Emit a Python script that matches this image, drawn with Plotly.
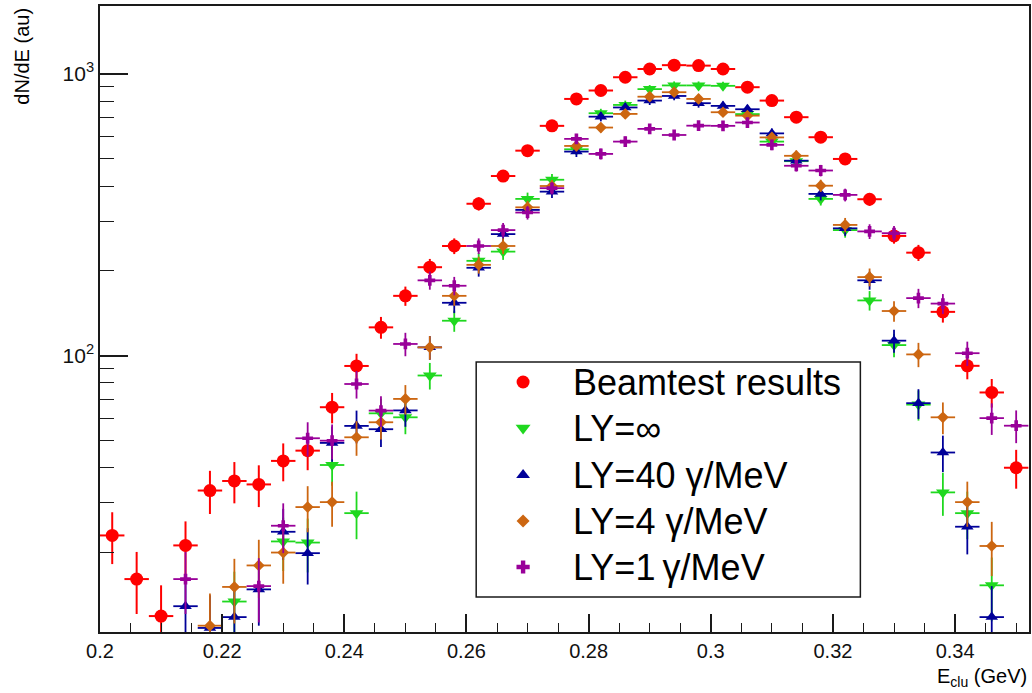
import plotly.graph_objects as go

# Cluster energy bin centres (GeV), bin width 0.004
E_CENTERS = [0.202, 0.206, 0.210, 0.214, 0.218, 0.222, 0.226, 0.230, 0.234, 0.238,
             0.242, 0.246, 0.250, 0.254, 0.258, 0.262, 0.266, 0.270, 0.274, 0.278,
             0.282, 0.286, 0.290, 0.294, 0.298, 0.302, 0.306, 0.310, 0.314, 0.318,
             0.322, 0.326, 0.330, 0.334, 0.338, 0.342, 0.346, 0.350]
E_HALF_BIN = 0.002

# dN/dE per series (None = empty bin)
beamtest = [23.0, 16.1, 11.9, 21.2, 33.2, 35.9, 34.9, 42.3, 46.0, 65.6,
            91.9, 126, 163, 206, 245, 346, 434, 534, 654, 815,
            873, 973, 1041, 1074, 1070, 1041, 897, 804, 702, 596,
            499, 359, 266, 232, 143, 92, 74, 40]
beamtest_err = [4.8, 4.0, 3.4, 4.6, 5.8, 6.0, 5.9, 6.5, 6.8, 8.1,
                9.6, 11.2, 12.8, 14.4, 15.7, 18.6, 20.8, 23.1, 25.6, 28.5,
                29.5, 31.2, 32.3, 32.8, 32.7, 32.3, 29.9, 28.4, 26.5, 24.4,
                22.3, 18.9, 16.3, 15.2, 12.0, 9.6, 8.6, 6.3]

ly_inf = [None, None, None, None, None, 13.4, None, 21.9, 21.7, 40.9,
          27.6, 62.4, 60.4, 85, 133, 217, 234, 360, 421, 540,
          725, 776, 883, 910, 910, 907, 720, 575, 490, 360,
          279, 157, 109, 67, 32.7, 27.6, 15.3, None]
ly_inf_err = [None, None, None, None, None, 3.7, None, 4.7, 4.7, 6.4,
              5.3, 7.9, 7.8, 9.2, 11.5, 14.7, 15.3, 19.0, 20.5, 23.2,
              26.9, 27.9, 29.7, 30.2, 30.2, 30.1, 26.8, 24.0, 22.1, 19.0,
              16.7, 12.5, 10.4, 8.2, 5.7, 5.3, 3.9, None]

ly_40 = [None, None, None, 12.9, 10.8, 11.8, 14.8, 23.7, 19.9, 49,
         56.3, 54.8, 63.9, 107, 154, 205, 270, 329, 382, 530,
         705, 760, 804, 835, 787, 770, 749, 615, 492, 375,
         283, 185, 113, 67.8, 45.3, 24.7, 11.8, None]
ly_40_err = [None, None, None, 3.6, 3.3, 3.4, 3.8, 4.9, 4.5, 7.0,
             7.5, 7.4, 8.0, 10.3, 12.4, 14.3, 16.4, 18.1, 19.5, 23.0,
             26.6, 27.6, 28.4, 28.9, 28.1, 27.7, 27.4, 24.8, 22.2, 19.4,
             16.8, 13.6, 10.6, 8.2, 6.7, 5.0, 3.4, None]

ly_4 = [None, None, None, None, 11.0, 15.1, 18.0, 20.0, 29.0, 30.2,
        51.3, 58.0, 70.2, 107, 163, 210, 245, 336, 400, 555,
        645, 721, 830, 861, 815, 731, 711, 595, 512, 401,
        291, 190, 144, 101, 60.4, 30.2, 21.1, None]
ly_4_err = [None, None, None, None, 3.3, 3.9, 4.2, 4.5, 5.4, 5.5,
            7.2, 7.6, 8.4, 10.3, 12.8, 14.5, 15.7, 18.3, 20.0, 23.6,
            25.4, 26.9, 28.8, 29.3, 28.5, 27.0, 26.7, 24.4, 22.6, 20.0,
            17.1, 13.8, 12.0, 10.0, 7.8, 5.5, 4.6, None]

ly_1 = [None, None, None, 16.1, None, None, 15.2, 24.9, 50.9, 49.9,
        79.3, 63.8, 110, 185, 177, 245, 279, 322, 393, 588,
        520, 575, 638, 607, 655, 654, 672, 560, 472, 454,
        372, 276, 272, 160, 153, 102, 60, 56.4]
ly_1_err = [None, None, None, 4.0, None, None, 3.9, 5.0, 7.1, 7.1,
            8.9, 8.0, 10.5, 13.6, 13.3, 15.7, 16.7, 17.9, 19.8, 24.2,
            22.8, 24.0, 25.3, 24.6, 25.6, 25.6, 25.9, 23.7, 21.7, 21.3,
            19.3, 16.6, 16.5, 12.6, 12.4, 10.1, 7.7, 7.5]

SERIES_NAMES = ["Beamtest results", "LY=\u221e", "LY=40 \u03b3/MeV",
                "LY=4 \u03b3/MeV", "LY=1\u2009\u03b3/MeV"]

X_TICKS = [0.20, 0.22, 0.24, 0.26, 0.28, 0.30, 0.32, 0.34]
X_TICK_TEXT = ["0.2", "0.22", "0.24", "0.26", "0.28", "0.3", "0.32", "0.34"]
Y_TICKS = [100, 1000]
Y_TICK_TEXT = ["10<sup>2</sup>", "10<sup>3</sup>"]
Y_MINOR = [20, 30, 40, 50, 60, 70, 80, 90, 200, 300, 400, 500, 600, 700, 800, 900]

FONT = "Liberation Sans, Arial, Helvetica, sans-serif"
FRAME = "#1a1a1a"

styles = [
    dict(color="#ff0000", symbol="circle", size=13, ew=2.0),
    dict(color="#1fd81f", symbol="triangle-down", size=12, ew=1.8),
    dict(color="#000099", symbol="triangle-up", size=11, ew=1.8),
    dict(color="#cc6611", symbol="diamond", size=9, ew=1.8),
    dict(color="#990099", symbol="cross", size=9, ew=1.8),
]
values = [beamtest, ly_inf, ly_40, ly_4, ly_1]
errors = [beamtest_err, ly_inf_err, ly_40_err, ly_4_err, ly_1_err]

fig = go.Figure()
for name, vals, errs, st in zip(SERIES_NAMES, values, errors, styles):
    fig.add_trace(go.Scatter(
        x=E_CENTERS, y=vals, mode="markers", name=name, showlegend=False,
        marker=dict(symbol=st["symbol"], size=st["size"], color=st["color"],
                    line=dict(width=0)),
        error_y=dict(type="data", array=errs, symmetric=True, color=st["color"],
                     thickness=st["ew"], width=0),
        error_x=dict(type="constant", value=E_HALF_BIN, color=st["color"],
                     thickness=st["ew"], width=0),
    ))

# Legend box drawn on a pixel-unit overlay axis
LEG_BOX = (477, 362, 862, 597)
LEG_MARK_X = 524
LEG_TEXT_X = 572
LEG_ROWS = [382, 428, 475, 521, 567]
LEG_SIZES = [13, 13, 12, 10, 11]
for name, st, ry, sz in zip(SERIES_NAMES, styles, LEG_ROWS, LEG_SIZES):
    fig.add_trace(go.Scatter(
        x=[LEG_MARK_X], y=[ry], xaxis="x2", yaxis="y2", mode="markers",
        showlegend=False, hoverinfo="skip",
        marker=dict(symbol=st["symbol"], size=sz, color=st["color"], line=dict(width=0)),
    ))

annotations = []
for name, ry in zip(SERIES_NAMES, LEG_ROWS):
    annotations.append(dict(
        x=LEG_TEXT_X, y=ry, xref="x2", yref="y2", text=name, showarrow=False,
        xanchor="left", yanchor="middle", font=dict(family=FONT, size=36, color="black"),
    ))
annotations.append(dict(
    x=-0.0849, y=1.0, xref="paper", yref="paper", text="dN/dE (au)", textangle=-90,
    showarrow=False, xanchor="center", yanchor="top",
    font=dict(family=FONT, size=20, color="black"),
))
annotations.append(dict(
    x=1.0, y=-0.05, xref="paper", yref="paper", text="E<sub>clu</sub> (GeV)",
    showarrow=False, xanchor="right", yanchor="top",
    font=dict(family=FONT, size=20, color="black"),
))

fig.update_layout(
    width=1032, height=693,
    margin=dict(l=100, r=1, t=6, b=61),
    paper_bgcolor="white", plot_bgcolor="white",
    font=dict(family=FONT, size=20, color="black"),
    showlegend=False,
    xaxis=dict(
        range=[0.2, 0.3521], showgrid=False, zeroline=False,
        showline=True, mirror=True, linecolor=FRAME, linewidth=1.5,
        ticks="inside", ticklen=18, tickwidth=1.5, tickcolor=FRAME,
        tickvals=X_TICKS, ticktext=X_TICK_TEXT,
        tickfont=dict(family=FONT, size=20, color="#111"),
        minor=dict(ticks="inside", ticklen=9, tickwidth=1.3, tickcolor=FRAME,
                   tick0=0.2, dtick=0.005, showgrid=False),
    ),
    yaxis=dict(
        type="log", range=[1.019, 3.241], showgrid=False, zeroline=False,
        showline=True, mirror=True, linecolor=FRAME, linewidth=1.5,
        ticks="inside", ticklen=28, tickwidth=1.5, tickcolor=FRAME,
        tickvals=Y_TICKS, ticktext=Y_TICK_TEXT,
        tickfont=dict(family=FONT, size=21, color="#111"),
        minor=dict(ticks="inside", ticklen=14, tickwidth=1.3, tickcolor=FRAME,
                   tickvals=Y_MINOR, showgrid=False),
    ),
    xaxis2=dict(range=[100, 1031], overlaying="x", anchor="y2", visible=False,
                fixedrange=True),
    yaxis2=dict(range=[632, 6], overlaying="y", anchor="x2", visible=False,
                fixedrange=True),
    shapes=[dict(type="rect", xref="x2", yref="y2",
                 x0=LEG_BOX[0], y0=LEG_BOX[1], x1=LEG_BOX[2], y1=LEG_BOX[3],
                 line=dict(color=FRAME, width=1.5), fillcolor="white", layer="below")],
    annotations=annotations,
)

fig.write_html("out.html")
